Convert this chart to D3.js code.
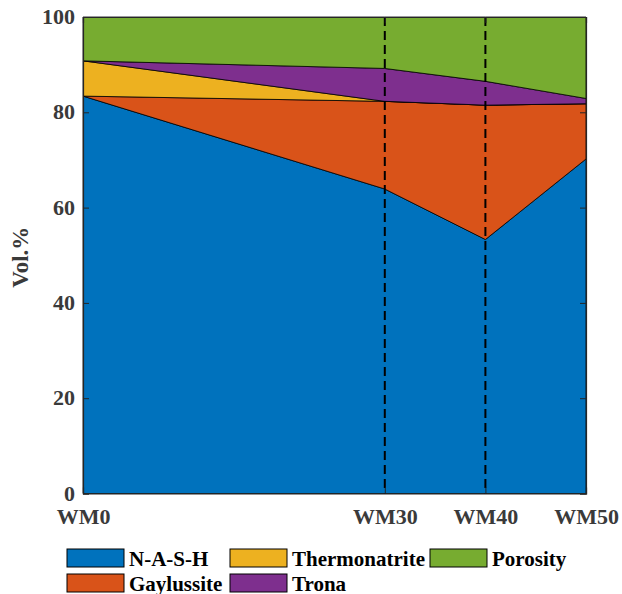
<!DOCTYPE html>
<html>
<head>
<meta charset="utf-8">
<script src="https://cdn.jsdelivr.net/npm/d3@7"></script>
<style>
  html, body { margin: 0; padding: 0; background: #fff; }
  svg { display: block; font-family: "Liberation Serif", "Times New Roman", serif; font-weight: bold; }
</style>
</head>
<body>
<svg id="chart" width="622" height="594"></svg>
<script>
// Mix positions (wt.% of waste material) and their labels
const mixes = [0, 30, 40, 50];
const mixLabels = ["WM0", "WM30", "WM40", "WM50"];

// Phase volume fractions (Vol.%) at each mix, stacked bottom to top
const phases = ["N-A-S-H", "Gaylussite", "Thermonatrite", "Trona", "Porosity"];
const nash          = [83.4, 63.9, 53.3, 70.2];
const gaylussite    = [0.0, 18.4, 28.2, 11.6];
const thermonatrite = [7.4, 0.0, 0.0, 0.0];
const trona         = [0.0, 6.9, 5.0, 1.1];
const porosity      = [9.2, 10.8, 13.5, 17.1];

const yTicks = [0, 20, 40, 60, 80, 100];
const dashedAt = [30, 40];

const colors = ["#0072BD", "#D95319", "#EDB120", "#7E2F8E", "#77AC30"];
const serif = "Liberation Serif, Times New Roman, serif";

const rows = mixes.map((m, i) => ({
  mix: m,
  "N-A-S-H": nash[i],
  "Gaylussite": gaylussite[i],
  "Thermonatrite": thermonatrite[i],
  "Trona": trona[i],
  "Porosity": porosity[i]
}));

const svg = d3.select("#chart");
const plotL = 83, plotR = 586, plotT = 17, plotB = 493.5;

const x = d3.scaleLinear().domain([0, 50]).range([plotL, plotR]);
const y = d3.scaleLinear().domain([0, 100]).range([plotB, plotT]);

const series = d3.stack().keys(phases)(rows);

const area = d3.area()
  .x(d => x(d.data.mix))
  .y0(d => y(d[0]))
  .y1(d => y(Math.min(d[1], 100)));

svg.append("g").selectAll("path")
  .data(series)
  .join("path")
  .attr("d", area)
  .attr("fill", (d, i) => colors[i])
  .attr("stroke", "#000")
  .attr("stroke-width", 0.8)
  .attr("stroke-linejoin", "round");

// Dashed markers
svg.append("g").selectAll("line")
  .data(dashedAt)
  .join("line")
  .attr("x1", d => x(d)).attr("x2", d => x(d))
  .attr("y1", plotT).attr("y2", plotB)
  .attr("stroke", "#000")
  .attr("stroke-width", 2)
  .attr("stroke-dasharray", "9,5");

// Axes with inward ticks on all four sides
const tickColor = "#262626";
const axL = svg.append("g").attr("transform", `translate(${plotL},0)`)
  .call(d3.axisLeft(y).tickValues(yTicks).tickSize(-6).tickPadding(8).tickFormat(d3.format("d")));
const axR = svg.append("g").attr("transform", `translate(${plotR},0)`)
  .call(d3.axisRight(y).tickValues(yTicks).tickSize(-6).tickFormat(""));
const axB = svg.append("g").attr("transform", `translate(0,${plotB})`)
  .call(d3.axisBottom(x).tickValues(mixes).tickSize(-6).tickPadding(15).tickFormat((d, i) => mixLabels[i]));
const axT = svg.append("g").attr("transform", `translate(0,${plotT})`)
  .call(d3.axisTop(x).tickValues(mixes).tickSize(-6).tickFormat(""));

[axL, axR, axB, axT].forEach(g => {
  g.select(".domain").attr("stroke", tickColor).attr("stroke-width", 1.2);
  g.selectAll(".tick line").attr("stroke", tickColor).attr("stroke-width", 1);
  g.selectAll(".tick text")
    .attr("fill", "#3a3a3a")
    .attr("font-family", serif)
    .attr("font-weight", "bold")
    .attr("font-size", 22);
});
// keep the bottom "0" clear of the first category label
axL.selectAll(".tick text").attr("dy", "0.3em");

// Y axis title
svg.append("text")
  .attr("transform", `translate(28,${(plotT + plotB) / 2 + 2}) rotate(-90)`)
  .attr("text-anchor", "middle")
  .attr("fill", "#3a3a3a")
  .attr("font-family", serif)
  .attr("font-weight", "bold")
  .attr("font-size", 23)
  .text("Vol.%");

// Legend: two rows, three columns
const legendPos = [
  [67, 549], [67, 574], [230, 549], [230, 574], [430, 549]
];
const lg = svg.append("g").selectAll("g")
  .data(phases)
  .join("g")
  .attr("transform", (d, i) => `translate(${legendPos[i][0]},${legendPos[i][1]})`);
lg.append("rect")
  .attr("width", 57).attr("height", 18)
  .attr("fill", (d, i) => colors[i])
  .attr("stroke", "#000").attr("stroke-width", 1);
lg.append("text")
  .attr("x", 62).attr("y", 16.5)
  .attr("fill", "#000")
  .attr("font-family", serif)
  .attr("font-weight", "bold")
  .attr("font-size", 21)
  .text(d => d);
</script>
</body>
</html>
